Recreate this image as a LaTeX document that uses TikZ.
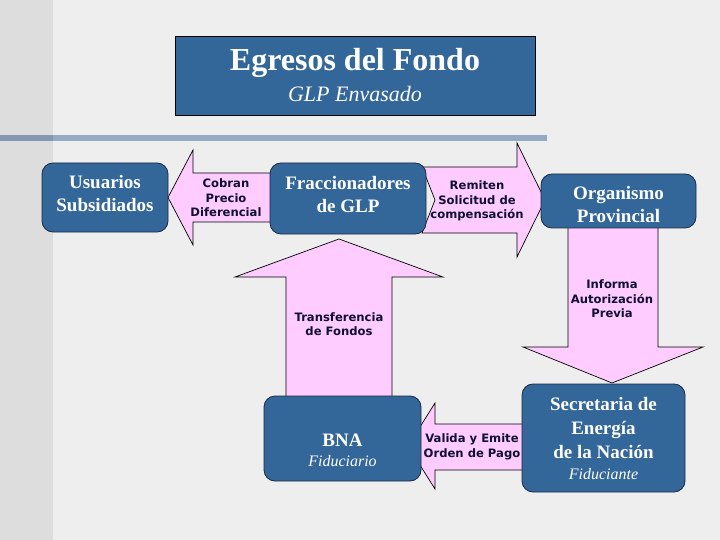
\documentclass[tikz,border=0pt]{standalone}
\usepackage{fontspec}
\setmainfont{Liberation Serif}
\newfontfamily\flowfont{DejaVu Sans}
\usetikzlibrary{calc}
\definecolor{EgrPaper}{HTML}{EEEEEE}
\definecolor{EgrStrip}{HTML}{DDDDDD}
\definecolor{EgrRule}{HTML}{95AAC5}
\definecolor{EgrRuleDark}{HTML}{8598B2}
\definecolor{EgrBlue}{HTML}{336699}
\definecolor{EgrEdge}{HTML}{1C2A44}
\definecolor{EgrPink}{HTML}{FFCCFF}
\definecolor{EgrInk}{HTML}{101030}
\newcommand\egrnote{\mdseries\itshape\fontsize{16}{20}\selectfont}
% struts that move a box text up (depth) or down (height)
\newcommand\egrlow[1]{\rule{0pt}{#1}}
\newcommand\egrhigh[1]{\rule[-#1]{0pt}{0pt}}
\tikzset{
    egr/diagram/.style={
        x=1pt, y=-1pt,
        line join=miter,
        every node/.style={inner sep=0pt, outer sep=0pt}
    },
    egr/box/.style={
        draw=EgrEdge, fill=EgrBlue, text=white, line width=0.8pt,
        rounded corners=11pt, align=center,
        font=\fontsize{19}{23}\selectfont\bfseries
    },
    egr/title/.style={
        draw=black, fill=EgrBlue, text=white, line width=0.8pt,
        align=center, font=\fontsize{32}{32}\selectfont
    },
    egr/arrow/.style={draw=black, fill=EgrPink, line width=0.7pt},
    egr/label/.style={
        text=EgrInk, align=center,
        font=\flowfont\bfseries\fontsize{11.6}{14.5}\selectfont
    }
}

\begin{document}
\begin{tikzpicture}[egr/diagram]
    \useasboundingbox (0,0) rectangle (720,540);
    \fill[EgrPaper] (0,0) rectangle (720,540);
    \fill[EgrStrip] (0,0) rectangle (53,540);
    \fill[EgrRuleDark] (0,135) rectangle (53,141);
    \fill[EgrRule] (53,135) rectangle (547,141);

    % the broad arrows lie under the boxes
    \draw[egr/arrow] (168,197.5) -- (193,150) -- (193,173) -- (280,173)
        -- (280,222) -- (193,222) -- (193,245) -- cycle;
    \draw[egr/arrow] (422,167) -- (517,167) -- (517,143) -- (545,200)
        -- (517,257) -- (517,233) -- (422,233) -- (435,200) -- cycle;
    \draw[egr/arrow] (339,239) -- (443,277) -- (392,277) -- (392,400)
        -- (286,400) -- (286,277) -- (235,277) -- cycle;
    \draw[egr/arrow] (568,226) -- (658,226) -- (658,347) -- (703,347)
        -- (612,383) -- (523,347) -- (568,347) -- cycle;
    \draw[egr/arrow] (408,446) -- (435,403) -- (435,424) -- (530,424)
        -- (530,470) -- (435,470) -- (435,489) -- cycle;

    \node[egr/label] (cobran) at (226,198) {Cobran\\Precio\\Diferencial};
    \node[egr/label] (remiten) at (477,201) {Remiten\\Solicitud de\\compensación};
    \node[egr/label] (transf) at (339,324) {Transferencia\\de Fondos};
    \node[egr/label] (informa) at (612,299) {Informa\\Autorización\\Previa};
    \node[egr/label] (valida) at (472,447) {Valida y Emite\\Orden de Pago};

    \node[egr/title, minimum width=360pt, minimum height=79pt] (title) at (355,75.5)
        {\bfseries Egresos del Fondo\\[-1pt]{\itshape\fontsize{22}{22}\selectfont GLP Envasado}};
    \node[egr/box, minimum width=126pt, minimum height=69pt] (usuarios) at (105,197.5)
        {Usuarios\\Subsidiados\egrhigh{8pt}};
    \node[egr/box, minimum width=156pt, minimum height=71pt] (fracc) at (348,198.5)
        {Fraccionadores\\de GLP\egrhigh{8pt}};
    \node[egr/box, minimum width=155pt, minimum height=54pt] (organismo) at (618.5,201)
        {\egrlow{21pt}Organismo\\Provincial};
    \node[egr/box, minimum width=157pt, minimum height=85pt] (bna) at (342.5,438.5)
        {\egrlow{37pt}BNA\\[-3pt]{\egrnote Fiduciario}};
    \node[egr/box, minimum width=163pt, minimum height=108pt] (secretaria) at (603.5,438)
        {Secretaria de\\[1pt]Energía\\[1pt]de la Nación\\[-2pt]{\egrnote Fiduciante}};
\end{tikzpicture}
\end{document}
